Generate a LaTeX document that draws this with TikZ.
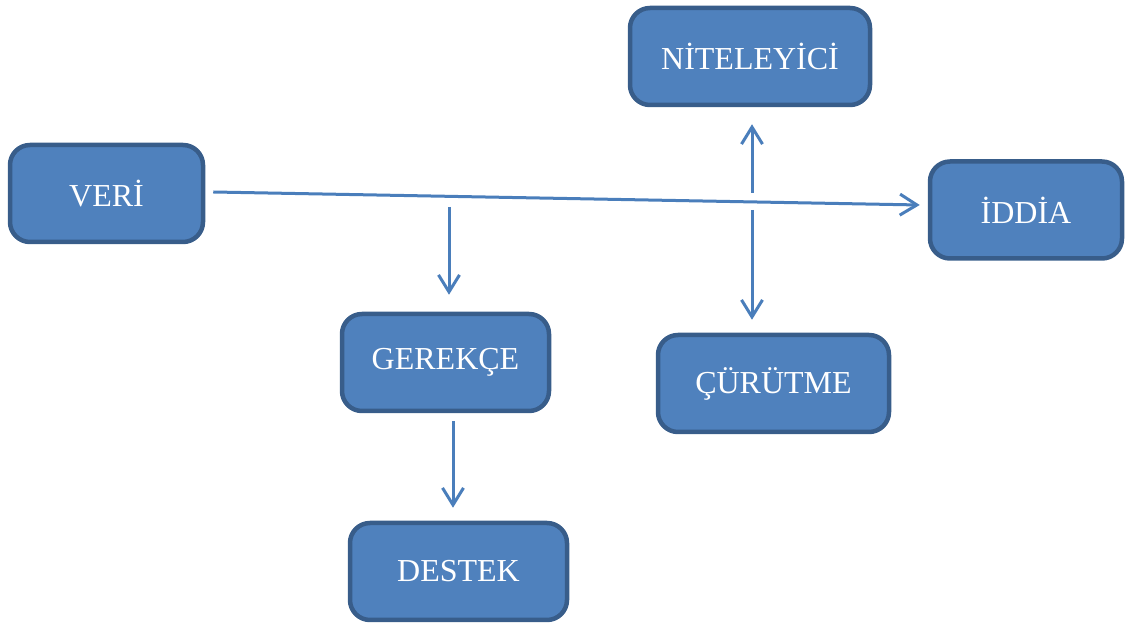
\documentclass[tikz,border=0pt]{standalone}
\usepackage{fontspec}
\setmainfont{Liberation Serif}
\usepackage{tikz}
\usetikzlibrary{arrows.meta}

\definecolor{boxfill}{HTML}{4F81BD}
\definecolor{boxline}{HTML}{385D8A}
\definecolor{linkblue}{HTML}{4A7EBB}

\tikzset{
  box/.style={draw=boxline, fill=boxfill, line width=2.25pt, rounded corners=10pt,
    minimum height=48.5pt, inner sep=0pt, text=white,
    font=\fontsize{16}{19}\selectfont},
  link/.style={draw=linkblue, line width=1.5pt, -{Straight Barb[length=8.5pt,width=10.5pt]}}
}

\begin{document}
\begin{tikzpicture}[x=0.5pt,y=-0.5pt]

\useasboundingbox (0,0) rectangle (1125,624);  % page size in pixels

\node[box, minimum width=120pt] (niteleyici) at (750,56.5) {NİTELEYİCİ};
\node[box, minimum width=96.5pt] (veri) at (106.5,193.5) {VERİ};
\node[box, minimum width=96pt] (iddia) at (1026,210) {İDDİA};
\node[box, minimum width=103.5pt] (gerekce) at (445.5,362.5) {GEREKÇE};
\node[box, minimum width=115.5pt] (curutme) at (773.5,383.5) {ÇÜRÜTME};
\node[box, minimum width=108.5pt] (destek) at (458.5,571.5) {DESTEK};

% long arrow
\draw[link] ([shift={(8,-1.5)}]veri.east) -- ([shift={(-8,-5)}]iddia.west);

% free starts under the long arrow
\coordinate (warrant) at (449,207);
\coordinate (qualup) at (752,193);
\coordinate (rebdown) at (752,210);

\draw[link] (warrant) -- ([shift={(3.5,-17)}]gerekce.north);
\draw[link] (qualup) -- ([shift={(2,17)}]niteleyici.south);
\draw[link] (rebdown) -- ([shift={(-21.5,-13)}]curutme.north);
\draw[link] ([shift={(7.5,8)}]gerekce.south) -- ([shift={(-5.5,-13)}]destek.north);

\end{tikzpicture}
\end{document}
